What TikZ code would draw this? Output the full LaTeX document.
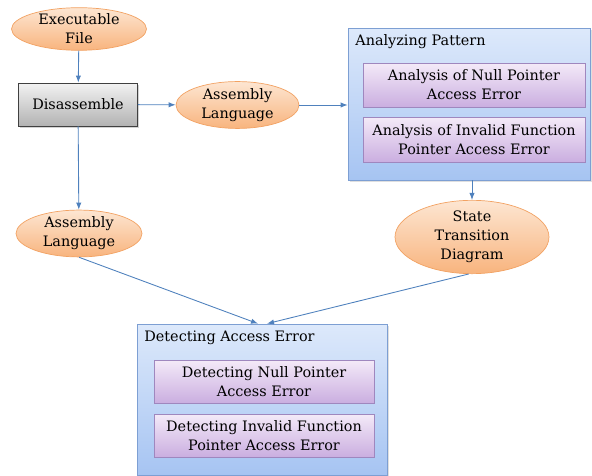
\documentclass[tikz,border=0pt]{standalone}
\usepackage{fontspec}
\setmainfont{DejaVu Serif}
\usetikzlibrary{shapes.geometric,arrows.meta,shadows}
\definecolor{ovaltop}{HTML}{FDE6D2}
\definecolor{ovalbot}{HTML}{F8B47E}
\definecolor{ovalline}{HTML}{F2A263}
\definecolor{grouptop}{HTML}{DDE9FB}
\definecolor{groupbot}{HTML}{A6C4F2}
\definecolor{groupline}{HTML}{7D9FD3}
\definecolor{subtop}{HTML}{F4EAF8}
\definecolor{subbot}{HTML}{CAAEE0}
\definecolor{subline}{HTML}{9F87BE}
\definecolor{arrowblue}{HTML}{4F81BD}
\begin{document}
\begin{tikzpicture}[x=0.02cm,y=-0.02cm,
  font=\fontsize{8.2}{10.8}\selectfont,
  oval/.style={ellipse,draw=ovalline,top color=ovaltop,bottom color=ovalbot,
    align=center,inner sep=0pt},
  procbox/.style={draw=black!75,top color=black!5,bottom color=black!30,
    minimum width=2.38cm,minimum height=0.86cm,
    drop shadow={opacity=0.35,shadow xshift=1pt,shadow yshift=-1pt}},
  groupbox/.style={draw=groupline,top color=grouptop,bottom color=groupbot,
    drop shadow={opacity=0.25,shadow xshift=1pt,shadow yshift=-1pt}},
  subbox/.style={draw=subline,top color=subtop,bottom color=subbot,align=center,
    drop shadow={opacity=0.3,shadow xshift=0.8pt,shadow yshift=-0.8pt}},
  link/.style={draw=arrowblue,line width=0.5pt,-{Latex[length=4pt,width=3pt]}}]
\useasboundingbox (0,0) rectangle (592,476);
\node[oval,minimum width=2.7cm,minimum height=0.84cm] (exe) at (79,29) {Executable\\File};
\node[procbox] (dis) at (78,104.5) {Disassemble};
\node[oval,minimum width=2.46cm,minimum height=0.88cm] (asm1) at (237.5,105) {Assembly\\Language};
\node[oval,minimum width=2.52cm,minimum height=0.86cm] (asm2) at (79,233.5) {Assembly\\Language};
\node[oval,minimum width=3.08cm,minimum height=1.2cm] (std) at (472,237) {State\\Transition\\Diagram};
% analyzing group
\node[groupbox,minimum width=4.84cm,minimum height=3.04cm] (ana) at (469,104) {};
\node[anchor=west,inner sep=0pt] (anat) at (355,42) {Analyzing Pattern};
\node[subbox,minimum width=4.44cm,minimum height=0.88cm] (ana1) at (474,85) {Analysis of Null Pointer\\Access Error};
\node[subbox,minimum width=4.44cm,minimum height=0.9cm] (ana2) at (474,139.5) {Analysis of Invalid Function\\Pointer Access Error};
% detecting group
\node[groupbox,minimum width=5cm,minimum height=3.02cm] (det) at (262,399.5) {};
\node[anchor=west,inner sep=0pt] (dett) at (144,338) {Detecting Access Error};
\node[subbox,minimum width=4.4cm,minimum height=0.86cm] (det1) at (264,381.5) {Detecting Null Pointer\\Access Error};
\node[subbox,minimum width=4.4cm,minimum height=0.86cm] (det2) at (264,435.5) {Detecting Invalid Function\\Pointer Access Error};
\coordinate (detl) at ([xshift=-0.08cm]det.north);
\coordinate (detr) at ([xshift=0.1cm]det.north);
% connectors
\draw[link] (exe) -- (dis);
\draw[link] (dis) -- (asm1);
\draw[link] (asm1.east) -- (asm1.east -| ana.west);
\draw[link] (dis) -- (asm2);
\draw[link] (std.north |- ana.south) -- (std.north);
\draw[link] (asm2.south) -- (detl);
\draw[link] (std.-95) -- (detr);
\end{tikzpicture}
\end{document}
